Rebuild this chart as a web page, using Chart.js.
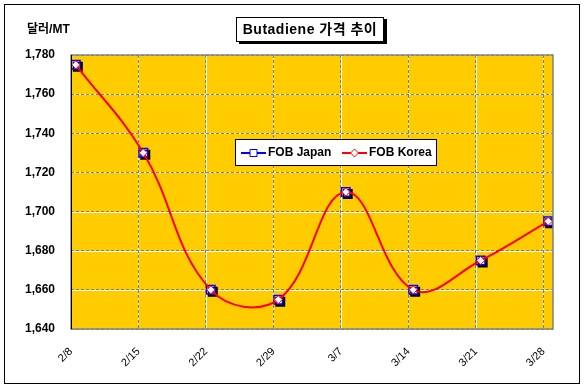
<!DOCTYPE html>
<html>
<head>
<meta charset="utf-8">
<script src="https://cdn.jsdelivr.net/npm/chart.js@4.4.0/dist/chart.umd.min.js"></script>
<style>
  body { margin: 0; background: #fff; }
  #wrap { position: relative; width: 584px; height: 388px; }
</style>
</head>
<body>
<div id="wrap"><canvas id="butadiene"></canvas></div>
<script>
'use strict';

// Data
const dateLabels = ['2/8', '2/15', '2/22', '2/29', '3/7', '3/14', '3/21', '3/28'];
const weekOffsets = [0, 7, 14, 21, 28, 35, 42, 49]; // days after 2/8
const fobJapan = [1775, 1730, 1660, 1655, 1710, 1660, 1675, 1695];
const fobKorea = [1775, 1730, 1660, 1655, 1710, 1660, 1675, 1695];
const yTicks = [1640, 1660, 1680, 1700, 1720, 1740, 1760, 1780];

(function () {
  const yellowColor = '#FFCC00',
    gridColor = '#808080',
    blueColor = '#0000FF',
    redColor = '#FF0000',
    fontFamily = "'Liberation Sans', Arial, 'Noto Sans CJK KR', sans-serif";

  // Excel puts each point in the middle of its day
  const toPoints = (values) => weekOffsets.map((d, i) => ({ x: d + 0.5, y: values[i] }));

  const chartDecor = {
    id: 'chartDecor',
    beforeDraw(chart) {
      const { ctx, chartArea: a, scales } = chart;
      ctx.save();
      ctx.fillStyle = yellowColor;
      ctx.fillRect(a.left, a.top, a.right - a.left, a.bottom - a.top);
      // white under the dashed grid lines
      ctx.strokeStyle = '#FFFFFF';
      ctx.lineWidth = 1;
      ctx.beginPath();
      scales.x.ticks.forEach(function (t) {
        const px = Math.round(scales.x.getPixelForValue(t.value)) + 0.5;
        ctx.moveTo(px, a.top);
        ctx.lineTo(px, a.bottom);
      });
      scales.y.ticks.forEach(function (t) {
        const py = Math.round(scales.y.getPixelForValue(t.value)) + 0.5;
        ctx.moveTo(a.left, py);
        ctx.lineTo(a.right, py);
      });
      ctx.stroke();
      ctx.restore();
    },
    beforeDatasetDraw(chart, args) {
      if (args.index === 1) {
        chart.ctx.save();
        chart.ctx.shadowColor = '#000000';
        chart.ctx.shadowOffsetX = 2;
        chart.ctx.shadowOffsetY = 2;
      }
    },
    afterDatasetDraw(chart, args) {
      if (args.index === 1) chart.ctx.restore();
    },
    afterDraw(chart) {
      const { ctx, chartArea: a } = chart;
      ctx.save();

      // plot area border
      ctx.strokeStyle = gridColor;
      ctx.lineWidth = 1.5;
      ctx.strokeRect(a.left, a.top, a.right - a.left, a.bottom - a.top);
      ctx.strokeStyle = '#000000';
      ctx.lineWidth = 1;
      ctx.beginPath();
      ctx.moveTo(a.left + 0.5, a.top);
      ctx.lineTo(a.left + 0.5, a.bottom);
      ctx.stroke();

      // outer frame
      ctx.strokeStyle = '#000000';
      ctx.lineWidth = 1;
      ctx.strokeRect(4.5, 4.5, 575, 379);

      // unit label
      ctx.fillStyle = '#000000';
      ctx.font = 'bold 12px ' + fontFamily;
      ctx.textAlign = 'left';
      ctx.textBaseline = 'middle';
      ctx.fillText('달러/MT', 27, 30);

      // title box with shadow
      ctx.fillStyle = '#000000';
      ctx.fillRect(239, 19, 148, 25);
      ctx.fillStyle = '#FFFFFF';
      ctx.fillRect(236, 17, 148, 25);
      ctx.strokeRect(236.5, 17.5, 147, 24);
      ctx.fillStyle = '#000000';
      ctx.font = 'bold 14px ' + fontFamily;
      ctx.letterSpacing = '0.5px';
      ctx.textAlign = 'center';
      ctx.fillText('Butadiene 가격 추이', 310, 30);
      ctx.letterSpacing = '0px';

      // legend box inside plot
      ctx.fillStyle = '#FFFFFF';
      ctx.fillRect(235, 139, 202, 27);
      ctx.strokeStyle = '#000000';
      ctx.strokeRect(235.5, 139.5, 201, 26);
      ctx.font = 'bold 12px ' + fontFamily;
      ctx.textAlign = 'left';
      const items = [
        { x: 241, color: blueColor, label: chart.data.datasets[1].label, diamond: false },
        { x: 342, color: redColor, label: chart.data.datasets[0].label, diamond: true }
      ];
      items.forEach(function (it) {
        const ly = 153;
        ctx.strokeStyle = it.color;
        ctx.lineWidth = 2;
        ctx.beginPath();
        ctx.moveTo(it.x, ly);
        ctx.lineTo(it.x + 25, ly);
        ctx.stroke();
        ctx.fillStyle = '#FFFFFF';
        ctx.lineWidth = 1;
        ctx.beginPath();
        if (it.diamond) {
          ctx.moveTo(it.x + 12.5, ly - 4);
          ctx.lineTo(it.x + 16.5, ly);
          ctx.lineTo(it.x + 12.5, ly + 4);
          ctx.lineTo(it.x + 8.5, ly);
          ctx.closePath();
        } else {
          ctx.rect(it.x + 9, ly - 3.5, 7, 7);
        }
        ctx.fill();
        ctx.stroke();
        ctx.fillStyle = '#000000';
        ctx.fillText(it.label, it.x + 27, ly);
      });

      ctx.restore();
    }
  };

  const butadiene = document.getElementById('butadiene');
  if (butadiene) {
    const butadieneChart = new Chart(butadiene, {
      type: 'line',
      data: {
        datasets: [
          {
            label: 'FOB Korea',
            data: toPoints(fobKorea),
            borderColor: redColor,
            borderWidth: 2,
            tension: 0.4,
            pointStyle: 'rectRot',
            pointRadius: 4,
            pointBackgroundColor: '#FFFFFF',
            pointBorderColor: redColor,
            pointBorderWidth: 1
          },
          {
            label: 'FOB Japan',
            data: toPoints(fobJapan),
            borderColor: blueColor,
            showLine: false,
            pointStyle: 'rect',
            pointRadius: 6,
            pointBackgroundColor: '#FFFFFF',
            pointBorderColor: blueColor,
            pointBorderWidth: 1.5
          }
        ]
      },
      options: {
        responsive: true,
        maintainAspectRatio: false,
        animation: false,
        layout: {
          padding: { top: 55, right: 31, left: 0, bottom: 0 }
        },
        plugins: {
          legend: { display: false },
          title: { display: false },
          tooltip: { enabled: false }
        },
        scales: {
          x: {
            type: 'linear',
            min: 0,
            max: 50,
            afterBuildTicks: function (scale) {
              scale.ticks = weekOffsets.map(function (v) { return { value: v }; });
            },
            afterFit: function (scale) {
              scale.height = 59;
            },
            grid: {
              color: gridColor,
              drawTicks: false
            },
            border: { display: false, dash: [3, 2] },
            ticks: {
              autoSkip: false,
              minRotation: 45,
              maxRotation: 45,
              padding: 16,
              color: '#000000',
              font: { family: fontFamily, size: 11 },
              callback: function (value, index) {
                return dateLabels[index];
              }
            }
          },
          y: {
            min: yTicks[0],
            max: yTicks[yTicks.length - 1],
            afterBuildTicks: function (scale) {
              scale.ticks = yTicks.map(function (v) { return { value: v }; });
            },
            afterFit: function (scale) {
              scale.width = 71;
            },
            grid: {
              color: gridColor,
              drawTicks: false
            },
            border: { display: false, dash: [3, 2] },
            ticks: {
              padding: 16,
              color: '#000000',
              font: { family: fontFamily, size: 12, weight: 'bold' },
              callback: function (value) {
                return value.toLocaleString('en-US');
              }
            }
          }
        }
      },
      plugins: [chartDecor]
    });
  }
})();
</script>
</body>
</html>
